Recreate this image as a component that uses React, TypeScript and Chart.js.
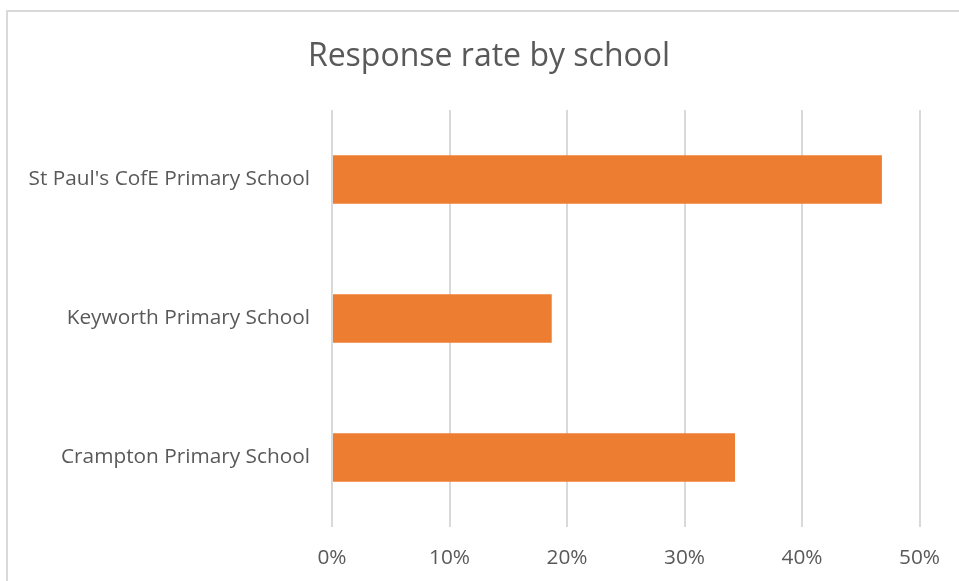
import React, { useEffect, useRef } from "react";
import { Chart, registerables } from "chart.js";

Chart.register(...registerables);

const categories = [
  "St Paul's CofE Primary School",
  "Keyworth Primary School",
  "Crampton Primary School",
];
const responseRates = [46.8, 18.7, 34.3];
const xTicks = [0, 10, 20, 30, 40, 50];
const titleText = "Response rate by school";

const FONT = "'Open Sans', Lato, sans-serif";
const TEXT = "#595959";

const frame = {
  id: "frame",
  beforeDraw(chart: any) {
    const ctx = chart.ctx;
    ctx.save();
    ctx.fillStyle = "#ffffff";
    ctx.fillRect(0, 0, chart.width, chart.height);
    ctx.strokeStyle = "#d9d9d9";
    ctx.lineWidth = 2;
    ctx.strokeRect(7, 11, chart.width + 20, chart.height + 20);
    ctx.restore();
  },
  afterDraw(chart: any) {
    const ctx = chart.ctx;
    ctx.save();
    ctx.fillStyle = TEXT;
    ctx.font = "normal 32px " + FONT;
    ctx.textAlign = "center";
    ctx.textBaseline = "middle";
    ctx.fillText(titleText, 489, 57);
    ctx.restore();
  },
};

export default function App() {
  const ref = useRef<HTMLCanvasElement | null>(null);
  useEffect(() => {
    if (!ref.current) return;
    const chart = new Chart(ref.current, {
      type: "bar",
      data: {
        labels: categories,
        datasets: [
          {
            data: responseRates,
            backgroundColor: "#ED7D31",
            borderWidth: 0,
            barPercentage: 0.35,
            categoryPercentage: 1,
          },
        ],
      },
      options: {
        indexAxis: "y",
        responsive: false,
        animation: false,
        layout: { padding: { left: 0, right: 39, top: 110, bottom: 0 } },
        plugins: {
          legend: { display: false },
          tooltip: { enabled: false },
          title: { display: false },
        },
        scales: {
          x: {
            min: 0,
            max: 50,
            afterBuildTicks: (scale: any) => {
              scale.ticks = xTicks.map((v) => ({ value: v }));
            },
            afterFit: (scale: any) => {
              scale.height = 54;
            },
            grid: { color: "#d9d9d9", lineWidth: 2, drawTicks: false },
            border: { display: false },
            ticks: {
              color: TEXT,
              padding: 19,
              font: { family: FONT, size: 20.8 },
              callback: (v: any) => v + "%",
            },
          },
          y: {
            afterFit: (scale: any) => {
              scale.width = 332;
            },
            grid: { display: false, drawTicks: false },
            border: { display: false },
            ticks: {
              color: TEXT,
              padding: 22,
              font: { family: FONT, size: 20.8 },
            },
          },
        },
      },
      plugins: [frame],
    });
    return () => chart.destroy();
  }, []);
  return (
    <canvas
      ref={ref}
      width={959}
      height={581}
      style={{ position: "fixed", left: 0, top: 0, display: "block" }}
    />
  );
}
